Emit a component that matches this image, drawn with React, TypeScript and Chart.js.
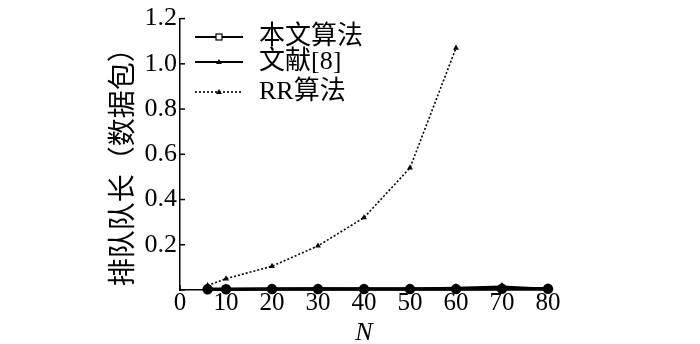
import React, { useEffect, useRef } from "react";
import { Chart, registerables } from "chart.js";

Chart.register(...registerables);

const nValues = [6, 10, 20, 30, 40, 50, 60, 70, 80];
const oursValues = [0.003, 0.003, 0.004, 0.004, 0.004, 0.004, 0.004, 0.005, 0.005];
const ref8Values = [0.003, 0.004, 0.006, 0.008, 0.007, 0.007, 0.01, 0.016, 0.006];
const rrN = [6, 10, 20, 30, 40, 50, 60];
const rrValues = [0.02, 0.05, 0.105, 0.195, 0.32, 0.54, 1.07];
const seriesNames = ["本文算法", "文献[8]", "RR算法"];
const yTitle = "排队队长（数据包）";
const xTitle = "N";

const FONT = "'Liberation Serif', 'Times New Roman', 'Noto Sans CJK SC', serif";

const toXY = (xs: number[], ys: number[]) => xs.map((x, i) => ({ x, y: ys[i] }));

const innerTicks = {
  id: "innerTicks",
  afterDraw(chart: any) {
    const ctx = chart.ctx;
    const { left, bottom } = chart.chartArea;
    const xs = chart.scales.x;
    const ys = chart.scales.y;
    ctx.save();
    ctx.strokeStyle = "#000";
    ctx.lineWidth = 1.5;
    ys.ticks.forEach((t: any) => {
      const py = ys.getPixelForValue(t.value);
      ctx.beginPath();
      ctx.moveTo(left, py);
      ctx.lineTo(left + 5, py);
      ctx.stroke();
    });
    xs.ticks.forEach((t: any) => {
      const px = xs.getPixelForValue(t.value);
      ctx.beginPath();
      ctx.moveTo(px, bottom);
      ctx.lineTo(px, bottom - 5);
      ctx.stroke();
    });
    ctx.restore();
  },
};

const axisTitles = {
  id: "axisTitles",
  afterDraw(chart: any) {
    const ctx = chart.ctx;
    const { left, right, top, bottom } = chart.chartArea;
    ctx.save();
    ctx.fillStyle = "#000";
    ctx.textAlign = "center";
    ctx.textBaseline = "middle";
    ctx.font = `28px ${FONT}`;
    ctx.translate(left - 55, (top + bottom) / 2 + 6);
    ctx.rotate(-Math.PI / 2);
    ctx.fillText(yTitle, 0, 0);
    ctx.restore();
    ctx.save();
    ctx.fillStyle = "#000";
    ctx.textAlign = "center";
    ctx.textBaseline = "alphabetic";
    ctx.font = `italic 26px ${FONT}`;
    ctx.fillText(xTitle, (left + right) / 2, bottom + 50);
    ctx.restore();
  },
};

const customLegend = {
  id: "customLegend",
  afterDraw(chart: any) {
    const ctx = chart.ctx;
    const x0 = 195;
    const x1 = 243;
    const rows = [37, 62, 92];
    ctx.save();
    chart.data.datasets.forEach((ds: any, i: number) => {
      const y = rows[i];
      ctx.strokeStyle = "#000";
      ctx.lineWidth = i === 2 ? 1.6 : 2.2;
      ctx.setLineDash(ds.borderDash || []);
      ctx.beginPath();
      ctx.moveTo(x0, y);
      ctx.lineTo(x1, y);
      ctx.stroke();
      ctx.setLineDash([]);
      const mx = (x0 + x1) / 2;
      ctx.lineWidth = 1.2;
      if (i === 0) {
        ctx.fillStyle = "#fff";
        ctx.fillRect(mx - 3, y - 3, 6, 6);
        ctx.strokeRect(mx - 3, y - 3, 6, 6);
      } else {
        ctx.fillStyle = "#000";
        ctx.beginPath();
        ctx.moveTo(mx, y - 3);
        ctx.lineTo(mx + 3, y + 2);
        ctx.lineTo(mx - 3, y + 2);
        ctx.closePath();
        ctx.fill();
      }
      ctx.fillStyle = "#000";
      ctx.font = `26px ${FONT}`;
      ctx.textBaseline = "middle";
      ctx.textAlign = "left";
      ctx.fillText(ds.label, 259, y);
    });
    ctx.restore();
  },
};

export default function App() {
  const ref = useRef<HTMLCanvasElement | null>(null);
  useEffect(() => {
    if (!ref.current) return;
    const chart = new Chart(ref.current, {
      type: "line",
      data: {
        datasets: [
          {
            label: seriesNames[0],
            data: toXY(nValues, oursValues),
            borderColor: "#000",
            borderWidth: 3.5,
            pointStyle: "circle",
            pointRadius: 3.5,
            pointBackgroundColor: "#000",
            pointBorderColor: "#000",
            clip: false,
          } as any,
          {
            label: seriesNames[1],
            data: toXY(nValues, ref8Values),
            borderColor: "#000",
            borderWidth: 2,
            pointStyle: "triangle",
            pointRadius: 2.5,
            pointBackgroundColor: "#000",
            pointBorderColor: "#000",
            clip: false,
          } as any,
          {
            label: seriesNames[2],
            data: toXY(rrN, rrValues),
            borderColor: "#000",
            borderWidth: 1.6,
            borderDash: [2, 2],
            pointStyle: "triangle",
            pointRadius: 1.8,
            pointBackgroundColor: "#000",
            pointBorderColor: "#000",
            clip: false,
          } as any,
        ],
      },
      options: {
        responsive: false,
        animation: false,
        layout: { padding: { left: 100, right: 152, top: 11, bottom: 0 } },
        plugins: { legend: { display: false }, tooltip: { enabled: false } },
        scales: {
          x: {
            type: "linear",
            min: 0,
            max: 80,
            ticks: {
              stepSize: 10,
              color: "#000",
              font: { family: FONT, size: 25, lineHeight: 1.2 },
              padding: -2,
              maxRotation: 0,
            },
            grid: { display: false, drawTicks: false },
            border: { display: true, color: "#000", width: 1.5 },
            afterFit: (s: any) => {
              s.height = 54;
            },
          },
          y: {
            type: "linear",
            min: 0,
            max: 1.2,
            ticks: {
              stepSize: 0.2,
              color: "#000",
              font: { family: FONT, size: 26 },
              padding: 3,
              callback: (v: any) => (Number(v) === 0 ? "" : Number(v).toFixed(1)),
            },
            grid: { display: false, drawTicks: false },
            border: { display: true, color: "#000", width: 1.5 },
            afterFit: (s: any) => {
              s.width = 80;
            },
          },
        },
      },
      plugins: [innerTicks, axisTitles, customLegend],
    });
    return () => chart.destroy();
  }, []);
  return (
    <div style={{ position: "absolute", left: 0, top: 0, width: 700, height: 344, background: "#fff" }}>
      <canvas ref={ref} width={700} height={344} />
    </div>
  );
}
